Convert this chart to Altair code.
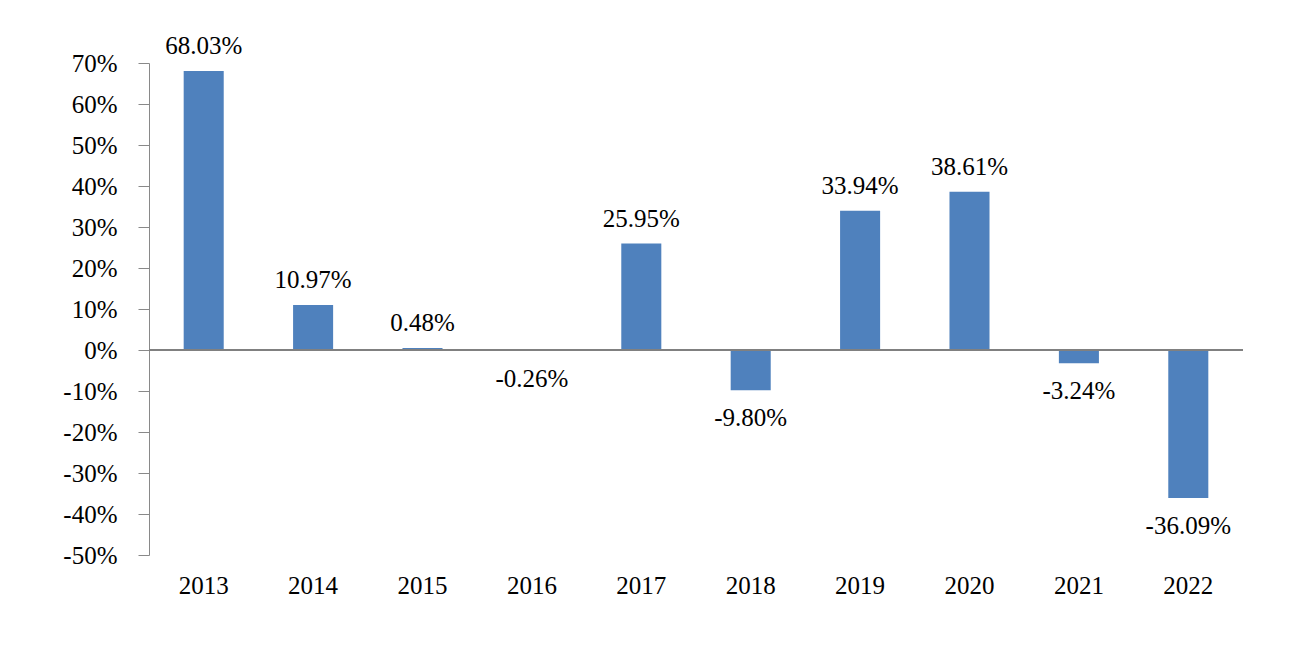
import altair as alt
import pandas as pd

years = ["2013", "2014", "2015", "2016", "2017", "2018", "2019", "2020", "2021", "2022"]
returns = [68.03, 10.97, 0.48, -0.26, 25.95, -9.80, 33.94, 38.61, -3.24, -36.09]
y_ticks = [-50, -40, -30, -20, -10, 0, 10, 20, 30, 40, 50, 60, 70]

df = pd.DataFrame({"year": years, "ret": returns})
df["label"] = [f"{v:.2f}%" for v in returns]

FONT = "Liberation Serif"
FS = 25

x = alt.X("year:N", sort=years, title=None,
          scale=alt.Scale(paddingInner=0.634, paddingOuter=0.317),
          axis=alt.Axis(domain=False, ticks=False, labelAngle=0, labelPadding=18,
                        labelFont=FONT, labelFontSize=FS, labelColor="black"))
y = alt.Y("ret:Q", title=None,
          scale=alt.Scale(domain=[-50, 70], nice=False, zero=False),
          axis=alt.Axis(values=y_ticks, grid=False, domainColor="#898989", tickColor="#898989",
                        tickSize=11, labelPadding=21, labelExpr="datum.value + '%'",
                        labelFont=FONT, labelFontSize=FS, labelColor="black"))

base = alt.Chart(df)
bars = base.mark_bar(color="#4F81BD").encode(x=x, y=y)
zero = alt.Chart(df).mark_rule(color="#808080", strokeWidth=1.5).encode(y=alt.datum(0))
pos = base.transform_filter("datum.ret >= 0").mark_text(
    font=FONT, fontSize=FS, color="black", baseline="alphabetic", dy=-17
).encode(x=x, y=y, text="label:N")
neg = base.transform_filter("datum.ret < 0").mark_text(
    font=FONT, fontSize=FS, color="black", baseline="alphabetic", dy=36
).encode(x=x, y=y, text="label:N")

chart = alt.layer(bars, zero, pos, neg).properties(
    width=1094, height=492,
    autosize=alt.AutoSizeParams(type="none"),
    padding={"left": 141, "top": 55, "right": 40, "bottom": 60},
).configure_view(stroke=None)

chart.save("out.html", embed_options={"renderer": "svg", "actions": False})
